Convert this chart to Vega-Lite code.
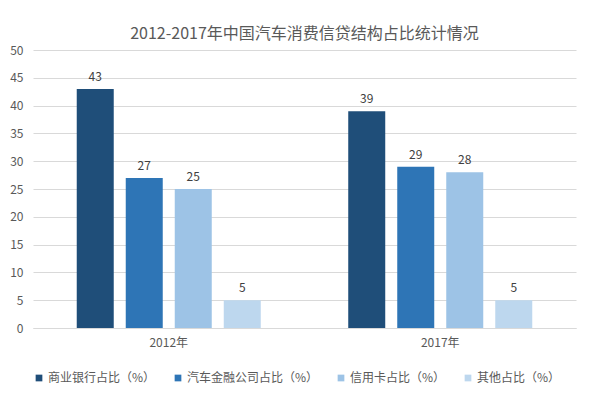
{
  "$schema": "https://vega.github.io/schema/vega-lite/v6.json",
  "width": 543,
  "height": 278,
  "autosize": {"type": "none"},
  "padding": {"left": 33, "top": 50, "right": 24, "bottom": 66},
  "background": "white",
  "title": {
    "text": "2012-2017年中国汽车消费信贷结构占比统计情况",
    "font": "Noto Sans CJK SC",
    "fontSize": 16,
    "fontWeight": "normal",
    "color": "#595959",
    "anchor": "middle",
    "offset": 2
  },
  "config": {
    "view": {"stroke": null},
    "font": "Noto Sans CJK SC"
  },
  "data": {
    "values": [
      {"year": "2012年", "series": "商业银行占比（%）", "order": 1, "value": 43},
      {"year": "2012年", "series": "汽车金融公司占比（%）", "order": 2, "value": 27},
      {"year": "2012年", "series": "信用卡占比（%）", "order": 3, "value": 25},
      {"year": "2012年", "series": "其他占比（%）", "order": 4, "value": 5},
      {"year": "2017年", "series": "商业银行占比（%）", "order": 1, "value": 39},
      {"year": "2017年", "series": "汽车金融公司占比（%）", "order": 2, "value": 29},
      {"year": "2017年", "series": "信用卡占比（%）", "order": 3, "value": 28},
      {"year": "2017年", "series": "其他占比（%）", "order": 4, "value": 5}
    ]
  },
  "encoding": {
    "x": {
      "field": "year",
      "type": "nominal",
      "scale": {"paddingInner": 0.278, "paddingOuter": 0.139},
      "axis": {
        "title": null,
        "labelAngle": 0,
        "labelFontSize": 12,
        "labelColor": "#595959",
        "labelPadding": 9,
        "ticks": false,
        "domainColor": "#d9d9d9",
        "grid": false
      }
    },
    "xOffset": {
      "field": "series",
      "type": "nominal",
      "sort": ["商业银行占比（%）", "汽车金融公司占比（%）", "信用卡占比（%）", "其他占比（%）"],
      "scale": {"paddingInner": 0.245, "paddingOuter": 0.1225}
    },
    "y": {
      "field": "value",
      "type": "quantitative",
      "scale": {"domain": [0, 50]},
      "axis": {
        "title": null,
        "values": [0, 5, 10, 15, 20, 25, 30, 35, 40, 45, 50],
        "labelFontSize": 12,
        "labelColor": "#595959",
        "labelPadding": 10,
        "ticks": false,
        "domain": false,
        "gridColor": "#d9d9d9",
        "gridWidth": 1
      }
    }
  },
  "layer": [
    {
      "mark": {"type": "bar"},
      "encoding": {
        "color": {
          "field": "series",
          "type": "nominal",
          "sort": ["商业银行占比（%）", "汽车金融公司占比（%）", "信用卡占比（%）", "其他占比（%）"],
          "scale": {
            "domain": ["商业银行占比（%）", "汽车金融公司占比（%）", "信用卡占比（%）", "其他占比（%）"],
            "range": ["#1f4e79", "#2e75b6", "#9dc3e6", "#bdd7ee"]
          },
          "legend": {
            "title": null,
            "orient": "bottom",
            "direction": "horizontal",
            "symbolType": "square",
            "symbolSize": 45,
            "symbolStrokeWidth": 0,
            "labelFontSize": 12,
            "labelColor": "#595959",
            "labelOffset": 3,
            "columnPadding": 16,
            "offset": 24
          }
        }
      }
    },
    {
      "mark": {"type": "text", "dy": -12, "fontSize": 12, "color": "#404040"},
      "encoding": {"text": {"field": "value", "type": "quantitative"}}
    }
  ]
}
